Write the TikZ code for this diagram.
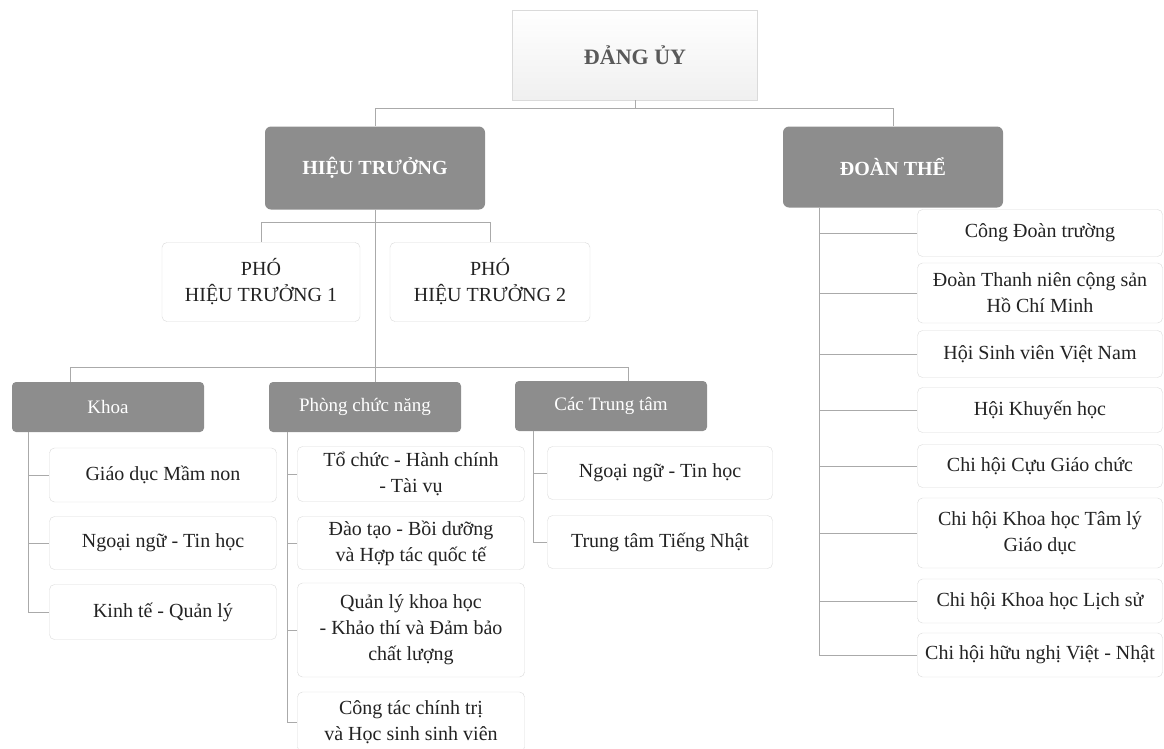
\documentclass[tikz,border=0pt]{standalone}
\usepackage{fontspec}
\setmainfont{Liberation Serif}
\definecolor{headgray}{RGB}{141,141,141}
\definecolor{linegray}{RGB}{170,170,170}
\definecolor{boxline}{RGB}{218,218,218}
\definecolor{txtgray}{RGB}{35,35,35}
\begin{document}
\begin{tikzpicture}[x=1pt,y=-1pt,
    top/.style={draw=boxline,top color=white,bottom color=gray!12,minimum width=245pt,minimum height=90pt,
      inner sep=0pt,text=gray!70!black,font=\fontsize{22}{26}\selectfont\bfseries},
    head/.style={fill=headgray,rounded corners=6pt,inner sep=0pt,text=white,
      font=\fontsize{20}{26}\selectfont\bfseries},
    group/.style={fill=headgray,rounded corners=4pt,inner sep=0pt,minimum width=192pt,minimum height=50pt,
      text=white,font=\fontsize{19}{24}\selectfont},
    cell/.style={draw=boxline,fill=white,rounded corners=5pt,inner sep=0pt,align=center,
      text=txtgray,font=\fontsize{20}{26}\selectfont},
    link/.style={draw=linegray,line width=1pt}]
\useasboundingbox (0,0) rectangle (1164,748);
% top
\node[top] (dang) at (635,55) {ĐẢNG ỦY};
\node[head,minimum width=220pt,minimum height=83pt] (ht) at (375,168) {HIỆU TRƯỞNG};
\node[head,minimum width=220pt,minimum height=81pt] (dt) at (893,167) {ĐOÀN THỂ};
\node[cell,minimum width=198pt,minimum height=79pt] (pho1) at (261,282) {PHÓ\\HIỆU TRƯỞNG 1};
\node[cell,minimum width=200pt,minimum height=79pt] (pho2) at (490,282) {PHÓ\\HIỆU TRƯỞNG 2};
% groups
\node[group] (khoa) at (108,407) {Khoa};
\node[group] (phong) at (365,407) {Phòng chức năng};
\node[group] (tt) at (611,406) {Các Trung tâm};
%
\node[cell,minimum width=227pt,minimum height=54pt] (gdmn) at (163,475) {Giáo dục Mầm non};
\node[cell,minimum width=227pt,minimum height=53pt] (nnth) at (163,543) {Ngoại ngữ - Tin học};
\node[cell,minimum width=227pt,minimum height=55pt] (ktql) at (163,612) {Kinh tế - Quản lý};
%
\node[cell,minimum width=227pt,minimum height=55pt] (tchc) at (411,474) {Tổ chức - Hành chính\\- Tài vụ};
\node[cell,minimum width=227pt,minimum height=53pt] (dtbd) at (411,543) {Đào tạo - Bồi dưỡng\\và Hợp tác quốc tế};
\node[cell,minimum width=227pt,minimum height=94pt] (qlkh) at (411,630) {Quản lý khoa học\\- Khảo thí và Đảm bảo\\chất lượng};
\node[cell,minimum width=227pt,minimum height=60pt] (ctct) at (411,722) {Công tác chính trị\\và Học sinh sinh viên};
%
\node[cell,minimum width=225pt,minimum height=53pt] (ttnn) at (660,473) {Ngoại ngữ - Tin học};
\node[cell,minimum width=225pt,minimum height=53pt] (ttnh) at (660,542) {Trung tâm Tiếng Nhật};
% doan the
\node[cell,minimum width=245pt,minimum height=47pt] (cd) at (1040,233) {Công Đoàn trường};
\node[cell,minimum width=245pt,minimum height=60pt] (dtn) at (1040,293) {Đoàn Thanh niên cộng sản\\Hồ Chí Minh};
\node[cell,minimum width=245pt,minimum height=47pt] (hsv) at (1040,354) {Hội Sinh viên Việt Nam};
\node[cell,minimum width=245pt,minimum height=45pt] (hkh) at (1040,410) {Hội Khuyến học};
\node[cell,minimum width=245pt,minimum height=43pt] (cgc) at (1040,466) {Chi hội Cựu Giáo chức};
\node[cell,minimum width=245pt,minimum height=70pt] (tlgd) at (1040,533) {Chi hội Khoa học Tâm lý\\Giáo dục};
\node[cell,minimum width=245pt,minimum height=44pt] (ls) at (1040,601) {Chi hội Khoa học Lịch sử};
\node[cell,minimum width=245pt,minimum height=44pt] (vn) at (1040,655) {Chi hội hữu nghị Việt - Nhật};
\draw[link]
    (dang.south)--++(0,8) -| (ht.north)
    (dang.south)++(0,8) -| (dt.north)
    (ht.south)--++(0,13) -| (pho1.north)
    (ht.south)++(0,13) -| (pho2.north)
    (ht.south)--(ht.south |- phong.north)
    (ht.south)++(0,158) -| ([xshift=-38pt]khoa.north)
    (ht.south)++(0,158) -| ([xshift=17pt]tt.north)
    % khoa
    ([xshift=17pt]khoa.south west) |- (gdmn.west)
    ([xshift=17pt]khoa.south west) |- (nnth.west)
    ([xshift=17pt]khoa.south west) |- (ktql.west)
    % phong
    ([xshift=19pt]phong.south west) |- (tchc.west)
    ([xshift=19pt]phong.south west) |- (dtbd.west)
    ([xshift=19pt]phong.south west) |- (qlkh.west)
    ([xshift=19pt]phong.south west) |- (ctct.west)
    % trung tam
    ([xshift=19pt]tt.south west) |- (ttnn.west)
    ([xshift=19pt]tt.south west) |- (ttnh.west)
    % doan the
    ([xshift=37pt]dt.south west) |- (cd.west)
    ([xshift=37pt]dt.south west) |- (dtn.west)
    ([xshift=37pt]dt.south west) |- (hsv.west)
    ([xshift=37pt]dt.south west) |- (hkh.west)
    ([xshift=37pt]dt.south west) |- (cgc.west)
    ([xshift=37pt]dt.south west) |- (tlgd.west)
    ([xshift=37pt]dt.south west) |- (ls.west)
    ([xshift=37pt]dt.south west) |- (vn.west);
\end{tikzpicture}
\end{document}
